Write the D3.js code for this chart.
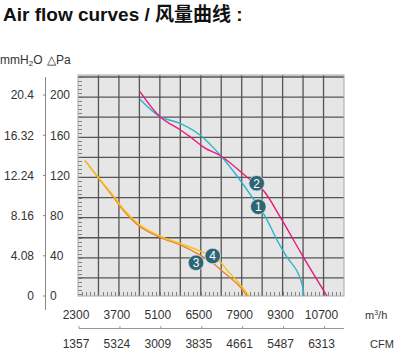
<!DOCTYPE html>
<html><head><meta charset="utf-8">
<script src="https://cdn.jsdelivr.net/npm/d3@7"></script>
<style>body{margin:0;background:#fff}svg{display:block}</style>
</head><body>
<svg id="c" width="400" height="353"></svg>
<script>
// ---- data ----
const flowTicks = [2300, 3700, 5100, 6500, 7900, 9300, 10700];
const cfmLabels = ["1357", "5324", "3009", "3835", "4661", "5487", "6313"];
const paTicks = [0, 40, 80, 120, 160, 200];
const mmLabels = ["0", "4.08", "8.16", "12.24", "16.32", "20.4"];

const curve1Flow = [4421, 5105, 5790, 6474, 7192, 7739, 8184, 8697, 9108, 9450, 9792, 9963, 10031];
const curve1Pa   = [195.8, 178.5, 171.9, 160.3, 139.4, 119.5, 101.5, 79.6, 55.7, 38.8, 24.9, 11.9, 0];
const curve2Flow = [4421, 5105, 5790, 6132, 6645, 7192, 8116, 8629, 9210, 10000, 10818];
const curve2Pa   = [203.4, 178.5, 165.5, 158.6, 147.3, 139.4, 117.5, 105.5, 79, 39.2, 0];
const curve3Flow = [2539, 3053, 3497, 3839, 4421, 5105, 5790, 6371, 6918, 7260, 7842, 8081];
const curve3Pa   = [134.7, 115.5, 98.9, 85.6, 69, 58.4, 50.8, 42.5, 32.6, 24.2, 9.3, 0];
const curve4Flow = [2539, 3053, 3497, 3839, 4421, 5105, 5790, 6474, 7089, 7397, 7774, 8150];
const curve4Pa   = [134.7, 116, 100.3, 87.1, 70.7, 59.7, 52.3, 44.8, 36.1, 25.9, 13.9, 0];

const badgeNames = ["1", "2", "3", "4"];
const badgeFlow = [8468, 8413, 6337, 6908];
const badgePa   = [88.9, 112.2, 33.1, 39.8];

const curveColors = ["#2db2d2", "#e8197d", "#f07f2c", "#f6c31c"];

// ---- layout ----
const svg = d3.select("#c");
const L = 78, R = 344, T = 75, B = 296;
const x = d3.scaleLinear().domain([2300, 11400]).range([L, R]);
const y = d3.scaleLinear().domain([0, 220]).range([B, T]);
const font = "'Liberation Sans', Arial, sans-serif";
const txt = "#333";

// title
const title = svg.append("text").attr("x", 3).attr("y", 21)
  .attr("font-family", font).attr("font-weight", "bold").attr("font-size", 19).attr("fill", "#111");
title.append("tspan").text("Air flow curves / ");
title.append("tspan").attr("font-family", "'Noto Sans CJK SC', sans-serif").attr("font-weight", "bold").attr("font-size", 19).text("风量曲线");
title.append("tspan").text(" :");

// plot background
svg.append("rect").attr("x", L).attr("y", T).attr("width", R - L).attr("height", B - T)
  .attr("fill", "#e6e6e6");

// grid
const vGrid = d3.range(3000, 11400, 700);
svg.append("g").selectAll("line").data(vGrid).join("line")
  .attr("x1", d => x(d)).attr("x2", d => x(d)).attr("y1", T).attr("y2", B)
  .attr("stroke", "#555").attr("stroke-width", 1.3);
const hGrid = d3.range(18, 219, 20);
svg.append("g").selectAll("line").data(hGrid).join("line")
  .attr("y1", d => y(d)).attr("y2", d => y(d)).attr("x1", L).attr("x2", R)
  .attr("stroke", "#555").attr("stroke-width", 1.3);

// minor ticks inside plot
svg.append("g").selectAll("line").data(d3.range(2, 219, 4)).join("line")
  .attr("x1", L).attr("x2", L + 4).attr("y1", d => Math.round(y(d)) + 0.5).attr("y2", d => Math.round(y(d)) + 0.5)
  .attr("stroke", "#666").attr("stroke-width", 0.8);
svg.append("g").selectAll("line").data(d3.range(2440, 11400, 140)).join("line")
  .attr("x1", d => Math.round(x(d)) + 0.5).attr("x2", d => Math.round(x(d)) + 0.5).attr("y1", B).attr("y2", B - 4)
  .attr("stroke", "#666").attr("stroke-width", 0.8);

svg.append("rect").attr("x", L).attr("y", T).attr("width", R - L).attr("height", B - T)
  .attr("fill", "none").attr("stroke", "#a8a8a8").attr("stroke-width", 1);

// curves
const line = d3.line().x(d => x(d[0])).y(d => y(d[1])).curve(d3.curveCatmullRom.alpha(0.5));
const series = [
  d3.zip(curve1Flow, curve1Pa), d3.zip(curve2Flow, curve2Pa),
  d3.zip(curve3Flow, curve3Pa), d3.zip(curve4Flow, curve4Pa)
];
const drawOrder = [2, 3, 0, 1];
svg.append("g").selectAll("path").data(drawOrder).join("path")
  .attr("d", i => line(series[i])).attr("fill", "none")
  .attr("stroke", i => curveColors[i]).attr("stroke-width", 1.4);

// badges
const bg = svg.append("g").selectAll("g").data(badgeNames).join("g")
  .attr("transform", (d, i) => `translate(${x(badgeFlow[i])},${y(badgePa[i])})`);
bg.append("circle").attr("r", 7.8).attr("fill", "#2c6574").attr("stroke", "#d8e2e4").attr("stroke-width", 0.8);
bg.append("text").text(d => d).attr("text-anchor", "middle").attr("dy", "0.36em")
  .attr("font-family", font).attr("font-size", 12).attr("fill", "#fff");

// y axis (Pa / mmH2O)
const AX = 45.5;
svg.append("line").attr("x1", AX).attr("x2", AX).attr("y1", 77).attr("y2", 310)
  .attr("stroke", "#888").attr("stroke-width", 1);
const yg = svg.append("g");
yg.selectAll("line").data(paTicks).join("line")
  .attr("x1", AX - 2.5).attr("x2", AX).attr("y1", d => y(d)).attr("y2", d => y(d))
  .attr("stroke", "#888");
yg.selectAll("text.pa").data(paTicks).join("text").attr("class", "pa")
  .attr("x", 50).attr("y", d => y(d)).attr("dy", "0.36em").text(d => d)
  .attr("font-family", font).attr("font-size", 12).attr("fill", txt);
yg.selectAll("text.mm").data(mmLabels).join("text").attr("class", "mm")
  .attr("x", 34).attr("y", (d, i) => y(paTicks[i])).attr("dy", "0.36em").attr("text-anchor", "end").text(d => d)
  .attr("font-family", font).attr("font-size", 12).attr("fill", txt);

// header units
const hdr = svg.append("text").attr("x", 0).attr("y", 64).attr("font-family", font).attr("font-size", 12).attr("fill", txt);
hdr.append("tspan").text("mmH");
hdr.append("tspan").attr("font-size", 8).attr("dy", 2).text("2");
hdr.append("tspan").attr("dy", -2).text("O");
svg.append("text").attr("x", 47).attr("y", 64).text("△Pa")
  .attr("font-family", font).attr("font-size", 12).attr("fill", txt);

// x axis labels m3/h
svg.append("g").selectAll("text").data(flowTicks).join("text")
  .attr("x", d => x(d) - 2).attr("y", 319).attr("text-anchor", "middle").text(d => d)
  .attr("font-family", font).attr("font-size", 12).attr("fill", txt);
const m3 = svg.append("text").attr("x", 365).attr("y", 319).attr("font-family", font).attr("font-size", 11).attr("fill", txt);
m3.append("tspan").text("m");
m3.append("tspan").attr("font-size", 7).attr("dy", -4).text("3");
m3.append("tspan").attr("dy", 4).text("/h");

// CFM axis
const CY = 328.5;
svg.append("line").attr("x1", L + 1).attr("x2", R).attr("y1", CY).attr("y2", CY).attr("stroke", "#999");
svg.append("g").selectAll("line").data(flowTicks).join("line")
  .attr("x1", d => x(d) + 1).attr("x2", d => x(d) + 1).attr("y1", CY).attr("y2", CY - 2.5).attr("stroke", "#999");
svg.append("g").selectAll("text").data(cfmLabels).join("text")
  .attr("x", (d, i) => x(flowTicks[i]) - 2).attr("y", 348).attr("text-anchor", "middle").text(d => d)
  .attr("font-family", font).attr("font-size", 12).attr("fill", txt);
svg.append("text").attr("x", 370).attr("y", 348).text("CFM")
  .attr("font-family", font).attr("font-size", 11).attr("fill", txt);
</script>
</body></html>
